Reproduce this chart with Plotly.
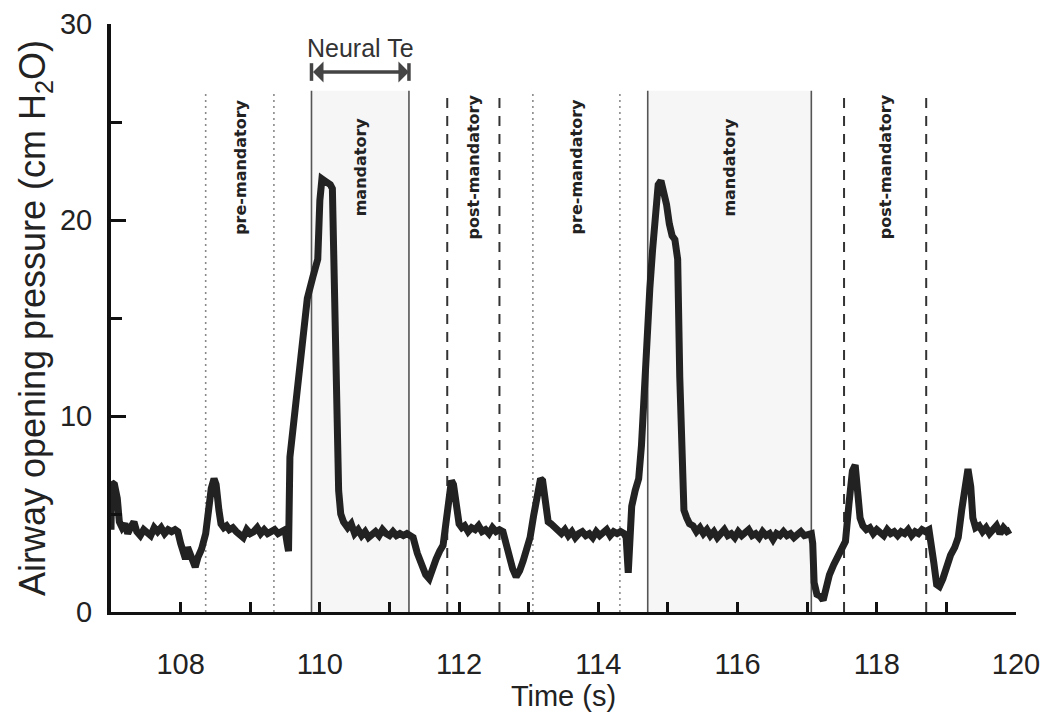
import plotly.graph_objects as go

# ---------------- data ----------------
time_s = [
    107.00, 107.01, 107.05, 107.09, 107.12, 107.16, 107.20, 107.24, 107.28, 107.33,
    107.37, 107.42, 107.47, 107.52, 107.57, 107.62, 107.67, 107.72, 107.77, 107.82,
    107.87, 107.92, 107.96, 108.00, 108.04, 108.07, 108.10, 108.13, 108.17, 108.21,
    108.25, 108.30, 108.36, 108.40, 108.44, 108.48, 108.51, 108.55, 108.58, 108.62,
    108.66, 108.70, 108.75, 108.80, 108.85, 108.90, 108.95, 109.00, 109.05, 109.10,
    109.15, 109.20, 109.25, 109.30, 109.35, 109.40, 109.45, 109.50, 109.53, 109.55,
    109.57, 109.62, 109.68, 109.75, 109.82, 109.90, 109.97, 110.00, 110.03, 110.07,
    110.11, 110.15, 110.18, 110.21, 110.24, 110.27, 110.30, 110.34, 110.40, 110.45,
    110.50, 110.55, 110.60, 110.65, 110.70, 110.75, 110.80, 110.85, 110.90, 110.95,
    111.00, 111.05, 111.10, 111.15, 111.20, 111.25, 111.30, 111.34, 111.40, 111.46,
    111.52, 111.57, 111.62, 111.67, 111.72, 111.77, 111.81, 111.85, 111.89, 111.92,
    111.96, 112.00, 112.04, 112.08, 112.13, 112.18, 112.23, 112.28, 112.33, 112.38,
    112.43, 112.48, 112.53, 112.58, 112.63, 112.67, 112.72, 112.77, 112.82, 112.87,
    112.92, 112.97, 113.02, 113.07, 113.12, 113.17, 113.20, 113.24, 113.28, 113.32,
    113.37, 113.42, 113.47, 113.52, 113.57, 113.62, 113.67, 113.72, 113.77, 113.82,
    113.87, 113.92, 113.97, 114.02, 114.07, 114.12, 114.17, 114.22, 114.27, 114.32,
    114.37, 114.40, 114.43, 114.46, 114.48, 114.53, 114.58, 114.62, 114.66, 114.70,
    114.74, 114.78, 114.82, 114.86, 114.90, 114.94, 114.98, 115.02, 115.06, 115.10,
    115.14, 115.17, 115.20, 115.23, 115.27, 115.31, 115.36, 115.41, 115.46, 115.51,
    115.56, 115.61, 115.66, 115.71, 115.76, 115.81, 115.86, 115.91, 115.96, 116.01,
    116.06, 116.11, 116.16, 116.21, 116.26, 116.31, 116.36, 116.41, 116.46, 116.51,
    116.56, 116.61, 116.66, 116.71, 116.76, 116.81, 116.86, 116.91, 116.96, 117.01,
    117.06, 117.08, 117.10, 117.14, 117.19, 117.23, 117.27, 117.32, 117.38, 117.44,
    117.50, 117.55, 117.60, 117.65, 117.69, 117.72, 117.76, 117.80, 117.85, 117.90,
    117.95, 118.00, 118.05, 118.10, 118.15, 118.20, 118.25, 118.30, 118.35, 118.40,
    118.45, 118.50, 118.55, 118.60, 118.65, 118.70, 118.75, 118.78, 118.82, 118.86,
    118.90, 118.95, 119.00, 119.06, 119.12, 119.17, 119.22, 119.27, 119.31, 119.35,
    119.38, 119.42, 119.47, 119.52, 119.57, 119.62, 119.67, 119.72, 119.77, 119.82,
    119.87, 119.92,
]
pressure_cmh2o = [
    4.2, 6.6, 6.5, 5.8, 4.6, 4.3, 4.5, 4.0, 4.3, 4.6,
    4.1, 3.9, 4.2, 4.1, 3.9, 4.3, 4.1, 4.3, 4.0, 4.2,
    4.1, 4.2, 4.1, 3.5, 2.9, 2.7, 3.3, 3.0, 2.5, 2.3,
    2.8, 3.2, 4.0, 5.2, 6.3, 6.8, 6.5, 5.2, 4.5, 4.3,
    4.4, 4.2, 4.3, 4.1, 4.0, 3.8, 4.2, 4.0, 4.1, 4.3,
    4.0, 4.2, 4.0, 4.1, 4.2, 4.0, 4.1, 4.2, 3.5, 3.1,
    7.9, 9.5, 11.6, 14.2, 16.0, 17.1, 18.0, 21.0, 22.1, 22.0,
    21.9, 21.8, 21.6, 17.0, 10.0, 6.2, 5.0, 4.6, 4.3, 4.5,
    4.0, 4.2, 3.9, 4.1, 3.8, 4.0, 4.1, 3.9, 4.2, 4.0,
    3.9, 4.1, 3.9, 4.0, 3.9, 4.0, 3.9, 3.8, 3.0, 2.3,
    1.9, 1.7, 2.3, 2.7, 3.1, 3.4, 4.5, 5.8, 6.7, 6.5,
    5.5, 4.5, 4.3, 4.4, 4.1, 4.3, 4.2, 4.4, 4.1, 4.2,
    4.0, 4.3, 4.1, 4.2, 4.1, 3.5, 2.8, 2.2, 1.8, 2.1,
    2.6, 3.2, 3.8, 4.9, 6.1, 6.8, 6.7, 5.5, 4.6, 4.5,
    4.3, 4.2, 4.0, 4.2, 3.9, 4.1, 3.8, 4.0, 4.1, 3.9,
    4.0, 3.8, 4.1, 3.9, 4.0, 4.2, 3.9, 4.1, 4.0, 4.1,
    4.0, 3.8, 2.0, 3.5, 5.4, 6.2, 6.8, 8.5, 11.5, 14.5,
    16.5, 18.5, 20.5, 21.8, 22.0, 21.5, 20.8, 19.8, 19.2, 19.0,
    18.0, 12.0, 7.0, 5.2, 4.8, 4.5, 4.4, 4.1, 4.3, 4.0,
    4.2, 3.9, 4.1, 3.8, 4.0, 4.2, 3.9, 4.0, 3.8, 4.1,
    3.9, 4.0, 4.2, 3.9, 4.0, 3.8, 4.1, 3.9, 4.0, 3.7,
    4.0, 3.9, 4.1, 3.9, 4.0, 3.8, 4.0, 4.1, 3.9, 4.0,
    4.0, 3.5, 1.5, 0.9, 0.8, 0.6, 1.3, 1.9, 2.4, 2.8,
    3.2, 3.6, 5.5, 7.2, 7.5, 6.5, 4.8, 4.4, 4.2, 4.3,
    4.0, 4.2, 4.1, 3.9, 4.2, 4.0, 4.1, 3.9, 4.1, 4.0,
    4.2, 3.9, 4.1, 4.0, 4.2, 4.1, 4.2, 3.6, 2.5, 1.4,
    1.3, 1.7, 2.4, 2.9, 3.3, 3.8, 5.2, 6.8, 7.3, 6.4,
    4.8, 4.3, 4.4, 4.1, 4.3, 4.0, 4.2, 4.4, 4.0, 4.3,
    4.1, 4.2,
]

# phase boundaries (s) and their line style
boundaries = [108.36, 109.34, 109.88, 111.28, 111.83, 112.58,
              113.06, 114.31, 114.71, 117.06, 117.53, 118.71]
phase_names = ["pre-mandatory", "mandatory", "post-mandatory",
               "pre-mandatory", "mandatory", "post-mandatory"]
phase_kind = ["pre", "mand", "post", "pre", "mand", "post"]
boundary_top = 26.6
label_y = 22.7
neural_te_label = "Neural Te"

x_ticks = [108, 110, 112, 114, 116, 118, 120]
y_ticks = [0, 10, 20, 30]

# ---------------- figure ----------------
fig = go.Figure()

styles = {
    "pre": dict(color="#8a8a8a", width=1.6, dash="2px,4px"),
    "mand": dict(color="#555555", width=1.6, dash="solid"),
    "post": dict(color="#333333", width=2, dash="10px,8px"),
}

shapes = []
annotations = []
for i, kind in enumerate(phase_kind):
    x0, x1 = boundaries[2 * i], boundaries[2 * i + 1]
    if kind == "mand":
        shapes.append(dict(type="rect", xref="x", yref="y", x0=x0, x1=x1, y0=0,
                           y1=boundary_top, fillcolor="#f6f6f6", line_width=0,
                           layer="below"))
    for xb in (x0, x1):
        shapes.append(dict(type="line", xref="x", yref="y", x0=xb, x1=xb, y0=0,
                           y1=boundary_top, line=styles[kind], layer="below"))
    annotations.append(dict(x=(x0 + x1) / 2, y=label_y, xref="x", yref="y",
                            text="<b>" + phase_names[i] + "</b>", textangle=-90,
                            showarrow=False,
                            font=dict(family="DejaVu Sans", size=16, color="#222222"),
                            xanchor="center", yanchor="middle"))

fig.add_trace(go.Scatter(x=time_s, y=pressure_cmh2o, mode="lines",
                         line=dict(color="#222222", width=7),
                         showlegend=False, hoverinfo="skip"))

# Neural Te arrow between the first mandatory boundaries
te0, te1 = boundaries[2], boundaries[3]
arrow_y = 27.55
annotations.append(dict(x=te1, y=arrow_y, ax=te0, ay=arrow_y, xref="x", yref="y",
                        axref="x", ayref="y", text="", showarrow=True,
                        arrowhead=1, arrowside="end+start", arrowsize=1.0,
                        arrowwidth=3.5, arrowcolor="#444444",
                        startarrowhead=1, startarrowsize=1.0))
for xb in (te0, te1):
    shapes.append(dict(type="line", xref="x", yref="y", x0=xb, x1=xb,
                       y0=arrow_y - 0.45, y1=arrow_y + 0.45,
                       line=dict(color="#444444", width=3.5)))
annotations.append(dict(x=(te0 + te1) / 2, y=28.8, xref="x", yref="y",
                        text=neural_te_label, showarrow=False,
                        font=dict(family="Liberation Sans, Arial", size=25, color="#333333"),
                        xanchor="center", yanchor="middle"))

# the page body adds an 8 px offset, so the figure is sized to fit inside it
fig.update_layout(
    width=1039, height=711,
    margin=dict(l=103, r=31, t=16, b=107, autoexpand=False),
    paper_bgcolor="white", plot_bgcolor="white",
    shapes=shapes, annotations=annotations,
    font=dict(family="Liberation Sans, Arial", color="#222222"),
    xaxis=dict(range=[107, 120], tickvals=x_ticks, ticks="inside", ticklen=10,
               tickwidth=3, tickcolor="#111111", showline=True, linewidth=3,
               linecolor="#111111", showgrid=False, zeroline=False,
               automargin=False,
               tickfont=dict(size=29), ticklabelstandoff=24,
               minor=dict(dtick=1, tick0=107, ticks="inside", ticklen=10,
                          tickwidth=3, tickcolor="#111111", showgrid=False),
               title=dict(text="Time (s)", font=dict(size=29), standoff=4)),
    yaxis=dict(range=[0, 30], tickvals=y_ticks, ticks="inside", ticklen=15,
               tickwidth=3, tickcolor="#111111", showline=True, linewidth=4,
               linecolor="#111111", showgrid=False, zeroline=False,
               automargin=False,
               tickfont=dict(size=29), ticklabelstandoff=9,
               minor=dict(dtick=5, tick0=0, ticks="inside", ticklen=11,
                          tickwidth=3, tickcolor="#111111", showgrid=False),
               title=dict(text="Airway opening pressure (cm H<sub>2</sub>O)",
                          font=dict(size=36), standoff=4)),
)

fig.write_html("out.html")
